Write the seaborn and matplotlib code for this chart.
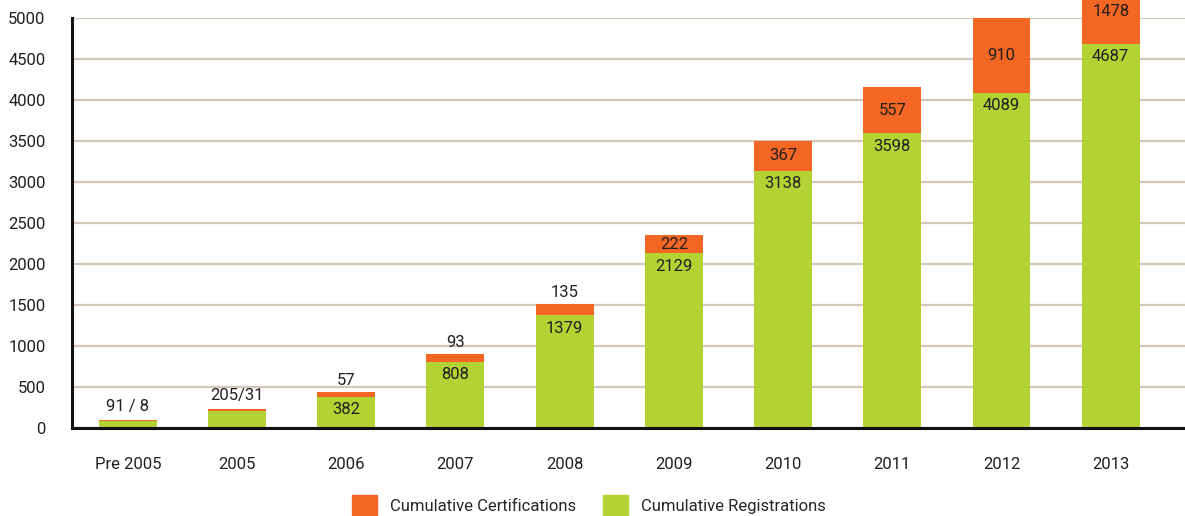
import matplotlib
matplotlib.use("Agg")
import matplotlib.pyplot as plt
import seaborn as sns
import pandas as pd
from matplotlib.patches import Patch

# data
years = ["Pre 2005", "2005", "2006", "2007", "2008", "2009", "2010", "2011", "2012", "2013"]
registrations = [91, 205, 382, 808, 1379, 2129, 3138, 3598, 4089, 4687]
certifications = [8, 31, 57, 93, 135, 222, 367, 557, 910, 1478]

ORANGE = "#f36624"
GREEN = "#b3d335"
GRID = "#d3c7b9"
TEXT = "#231f20"
FS = 12

sns.set_theme(style="white")
plt.rcParams["font.family"] = ["Roboto", "DejaVu Sans"]

df = pd.DataFrame({"year": years, "reg": registrations, "cert": certifications})
df["total"] = df["reg"] + df["cert"]

fig = plt.figure(figsize=(11.85, 5.16), dpi=100)
ax = fig.add_axes([0.0608, 0.1705, 0.9392, 0.7945])

sns.barplot(data=df, x="year", y="total", color=ORANGE, width=0.53,
            saturation=1, ax=ax, zorder=3)
sns.barplot(data=df, x="year", y="reg", color=GREEN, width=0.53,
            saturation=1, ax=ax, zorder=4)
for p in ax.patches:
    p.set_clip_on(False)
    p.set_edgecolor("none")

ax.set_ylim(0, 5000)
ax.set_xlim(-0.51, 9.68)
ax.set_yticks(range(0, 5001, 500))
ax.yaxis.grid(True, color=GRID, linewidth=1.6, zorder=0)
ax.set_axisbelow(True)
ax.set_xlabel("")
ax.set_ylabel("")
ax.tick_params(axis="both", length=0, labelsize=FS, colors=TEXT)
ax.tick_params(axis="x", pad=21)
ax.tick_params(axis="y", pad=19)

for side in ["top", "right"]:
    ax.spines[side].set_visible(False)
for side in ["left", "bottom"]:
    ax.spines[side].set_color("#111111")
    ax.spines[side].set_linewidth(2.2)
    ax.spines[side].set_zorder(6)

# value labels
for i, (r, c) in enumerate(zip(registrations, certifications)):
    if i < 2:
        txt = f"{r} / {c}" if i == 0 else f"{r}/{c}"
        ax.annotate(txt, (i, r + c), xytext=(0, 4), textcoords="offset points",
                    ha="center", va="bottom", fontsize=FS, color=TEXT)
        continue
    ax.annotate(str(r), (i, r), xytext=(0, -4), textcoords="offset points",
                ha="center", va="top", fontsize=FS, color=TEXT, zorder=7)
    if i < 5:
        ax.annotate(str(c), (i, r + c), xytext=(0, 3), textcoords="offset points",
                    ha="center", va="bottom", fontsize=FS, color=TEXT)
    else:
        ymid = min(r + c / 2, 5080)
        ax.text(i, ymid, str(c), ha="center", va="center", fontsize=FS,
                color=TEXT, zorder=7, clip_on=False)

handles = [Patch(color=ORANGE, label="Cumulative Certifications"),
           Patch(color=GREEN, label="Cumulative Registrations")]
fig.legend(handles=handles, loc="lower center", bbox_to_anchor=(0.497, -0.028),
           ncol=2, frameon=False, fontsize=FS, handlelength=1.5, handleheight=1.5,
           columnspacing=1.6, handletextpad=0.8)

fig.savefig("out.png", dpi=100)
